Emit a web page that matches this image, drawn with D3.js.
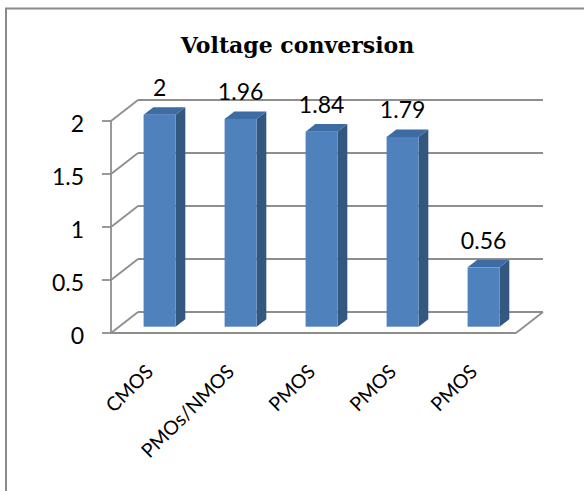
<!DOCTYPE html>
<html>
<head>
<meta charset="utf-8">
<script src="https://cdn.jsdelivr.net/npm/d3@7"></script>
<style>
  html, body { margin: 0; padding: 0; background: #fff; }
  svg { display: block; }
</style>
</head>
<body>
<svg id="chart" width="584" height="491"></svg>
<script>
// Chart data
const categories = ["CMOS", "PMOs/NMOS", "PMOS", "PMOS", "PMOS"];
const values = [2, 1.96, 1.84, 1.79, 0.56];
const yTicks = [0, 0.5, 1, 1.5, 2];
const title = "Voltage conversion";

const svg = d3.select("#chart");

// Outer frame (continues past the right and bottom edges)
svg.append("rect")
  .attr("x", 6).attr("y", 8.5)
  .attr("width", 640).attr("height", 540)
  .attr("fill", "#fff")
  .attr("stroke", "#8a8a8a").attr("stroke-width", 2);

// Front plane scales plus a depth vector for the 3D walls
const x = d3.scaleBand().domain(d3.range(categories.length)).range([111, 516]).padding(0);
const y = d3.scaleLinear().domain([0, 2]).range([333, 121]);
const depth = { dx: 27, dy: -21 };
const proj = (px, v, t) => [px + depth.dx * t, y(v) + depth.dy * t];

const gridColor = "#8e8e8e";
const g = svg.append("g");

// Back wall gridlines
g.selectAll("line.grid").data(yTicks).join("line")
  .attr("class", "grid")
  .attr("x1", proj(x.range()[0], 0, 1)[0])
  .attr("x2", proj(x.range()[1], 0, 1)[0])
  .attr("y1", d => proj(0, d, 1)[1])
  .attr("y2", d => proj(0, d, 1)[1])
  .attr("stroke", gridColor).attr("stroke-width", 1.8);

// Side wall diagonals
g.selectAll("line.diag").data(yTicks).join("line")
  .attr("class", "diag")
  .attr("x1", x.range()[0]).attr("y1", d => y(d))
  .attr("x2", d => proj(x.range()[0], d, 1)[0])
  .attr("y2", d => proj(x.range()[0], d, 1)[1])
  .attr("stroke", gridColor).attr("stroke-width", 1.8);

// Floor: right diagonal edge
g.append("line")
  .attr("x1", x.range()[1]).attr("y1", y(0))
  .attr("x2", proj(x.range()[1], 0, 1)[0]).attr("y2", proj(x.range()[1], 0, 1)[1])
  .attr("stroke", gridColor).attr("stroke-width", 1.8);

// Bars
const t1 = 0.3, t2 = 0.66;
const barW = x.bandwidth() * 0.395;
const colors = { front: "#4f81bd", side: "#34577f", top: "#3d6ba4" };

const bars = g.selectAll("g.bar").data(values).join("g").attr("class", "bar");
bars.each(function (v, i) {
  const left = x(i) + (x.bandwidth() - barW) / 2;
  const right = left + barW;
  const b = d3.select(this);
  const poly = pts => pts.map(p => p.join(",")).join(" ");
  // side face
  b.append("polygon")
    .attr("points", poly([proj(right, v, t1), proj(right, v, t2), proj(right, 0, t2), proj(right, 0, t1)]))
    .attr("fill", colors.side);
  // top face
  b.append("polygon")
    .attr("points", poly([proj(left, v, t1), proj(left, v, t2), proj(right, v, t2), proj(right, v, t1)]))
    .attr("fill", colors.top);
  // front face
  const p0 = proj(left, v, t1), p1 = proj(right, 0, t1);
  b.append("rect")
    .attr("x", p0[0]).attr("y", p0[1])
    .attr("width", p1[0] - p0[0]).attr("height", p1[1] - p0[1])
    .attr("fill", colors.front);
});

// Front floor edge and value axis
g.append("line")
  .attr("x1", x.range()[0]).attr("x2", x.range()[1])
  .attr("y1", y(0)).attr("y2", y(0))
  .attr("stroke", gridColor).attr("stroke-width", 1.8);
g.append("line")
  .attr("x1", x.range()[0]).attr("x2", x.range()[0])
  .attr("y1", y(0)).attr("y2", y(2))
  .attr("stroke", gridColor).attr("stroke-width", 1.8);
g.selectAll("line.tick").data(yTicks).join("line")
  .attr("class", "tick")
  .attr("x1", x.range()[0] - 9).attr("x2", x.range()[0])
  .attr("y1", d => y(d)).attr("y2", d => y(d))
  .attr("stroke", gridColor).attr("stroke-width", 1.8);

// Value axis labels
const labelFont = "Lato, 'Open Sans', sans-serif";
g.selectAll("text.ytick").data(yTicks).join("text")
  .attr("class", "ytick")
  .attr("x", 84).attr("y", d => y(d) + 2)
  .attr("text-anchor", "end").attr("dominant-baseline", "central")
  .attr("font-family", labelFont).attr("font-size", 23)
  .attr("fill", "#000")
  .text(d => d3.format("~g")(d));

// Value labels above bars
g.selectAll("text.val").data(values).join("text")
  .attr("class", "val")
  .attr("x", (d, i) => proj(x(i) + x.bandwidth() / 2, d, t1)[0])
  .attr("y", (d, i) => proj(0, d, t1)[1] - 18.5)
  .attr("text-anchor", "middle")
  .attr("font-family", labelFont).attr("font-size", 23)
  .attr("fill", "#000")
  .text(d => d);

// Category labels, rotated
g.selectAll("text.cat").data(categories).join("text")
  .attr("class", "cat")
  .attr("transform", (d, i) => `translate(${x(i) + x.bandwidth() / 2 + 3},${y(0) + 40}) rotate(-45)`)
  .attr("text-anchor", "end")
  .attr("font-family", labelFont).attr("font-size", 19.5)
  .attr("fill", "#000")
  .text(d => d);

// Title
svg.append("text")
  .attr("x", 297.5).attr("y", 53)
  .attr("text-anchor", "middle")
  .attr("font-family", "'DejaVu Serif', serif").attr("font-weight", "bold")
  .attr("font-size", 22)
  .attr("fill", "#000")
  .text(title);
</script>
</body>
</html>
